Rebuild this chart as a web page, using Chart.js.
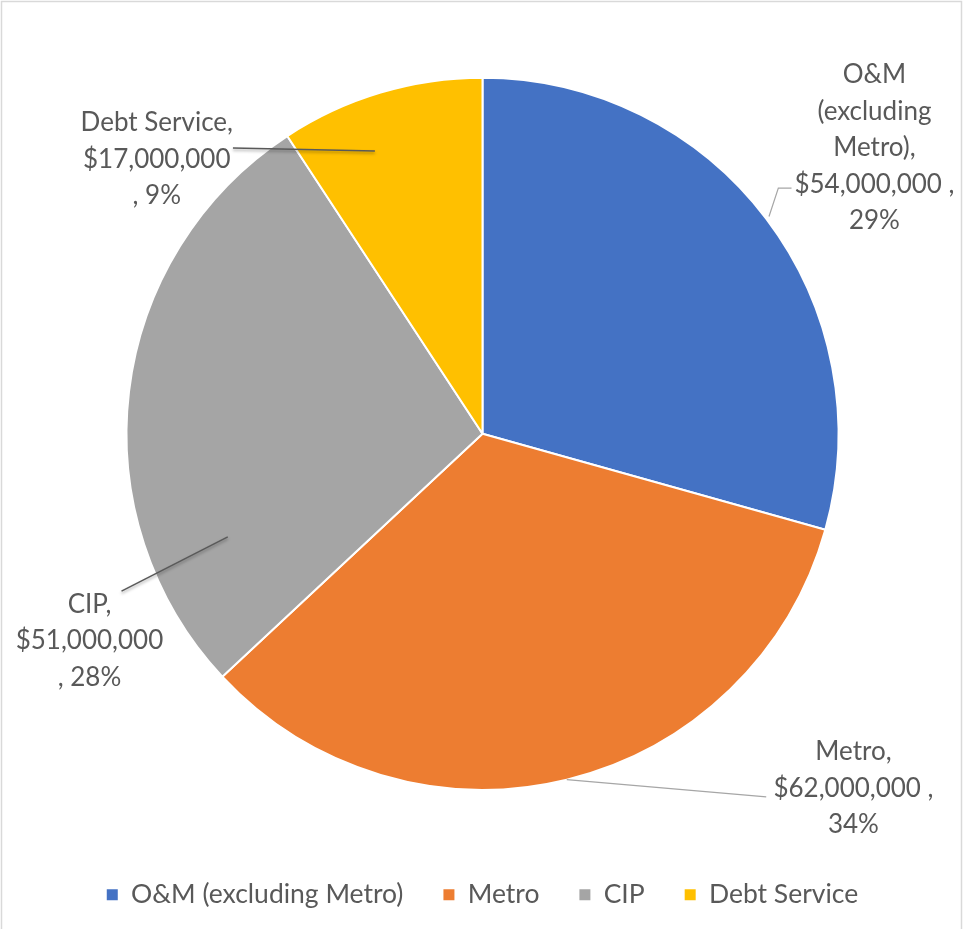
<!DOCTYPE html>
<html>
<head>
<meta charset="utf-8">
<title>Budget breakdown</title>
<script src="https://cdn.jsdelivr.net/npm/chart.js@4.4.1/dist/chart.umd.min.js"></script>
<style>
    html, body { margin: 0; padding: 0; background: #fff; }
    #wrap { position: relative; width: 963px; height: 929px; }
</style>
</head>
<body>
<div id="wrap"><canvas id="budgetChart" width="963" height="929"></canvas></div>
<script>
// Budget categories and amounts (dollars)
const categories = ['O&M (excluding Metro)', 'Metro', 'CIP', 'Debt Service'];
const amounts = [54000000, 62000000, 51000000, 17000000];
const sliceColors = ['#4472C4', '#ED7D31', '#A5A5A5', '#FFC000'];

// How each data label is wrapped (name lines) and where the comma goes
const labelNameLines = [['O&M', '(excluding', 'Metro),'], ['Metro,'], ['CIP,'], ['Debt Service,']];
const commaAfterAmount = [true, true, false, false];

// Label placement relative to pie centre, in units of the radius
const labelLayout = [
    { cx: 1.101, cy: -1.008, start: { a: 0, r: 1.01 }, elbow: [0.831, -0.69], end: [0.868, -0.69], color: '#A6A6A6' },
    { cx: 1.042, cy: 0.893, start: { a: 0, r: 1.0 }, end: [0.797, 1.02], color: '#A6A6A6' },
    { cx: -1.104, cy: 0.479, start: { a: -28.9, r: 0.772 }, end: [-1.014, 0.442], color: '#595959' },
    { cx: -0.915, cy: -0.873, start: { a: -4.2, r: 0.85 }, end: [-0.701, -0.803], color: '#595959' }
];

const fmtMoney = v => '$' + v.toLocaleString('en-US');

// Draw leader lines and data labels
const dataLabels = {
    id: 'dataLabels',
    afterDatasetsDraw(chart) {
        const ctx = chart.ctx;
        const meta = chart.getDatasetMeta(0);
        const total = amounts.reduce((a, b) => a + b, 0);
        ctx.save();
        meta.data.forEach((arc, i) => {
            const L = labelLayout[i];
            const cx = arc.x, cy = arc.y, R = arc.outerRadius;
            const mid = (arc.startAngle + arc.endAngle) / 2 + L.start.a * Math.PI / 180;
            const sx = cx + Math.cos(mid) * R * L.start.r;
            const sy = cy + Math.sin(mid) * R * L.start.r;

            ctx.strokeStyle = L.color;
            ctx.lineWidth = L.color === '#595959' ? 1.5 : 1.2;
            if (L.color === '#595959') {
                ctx.shadowColor = 'rgba(0,0,0,0.35)';
                ctx.shadowBlur = 3;
                ctx.shadowOffsetY = 2;
            }
            ctx.beginPath();
            ctx.moveTo(sx, sy);
            if (L.elbow) ctx.lineTo(cx + L.elbow[0] * R, cy + L.elbow[1] * R);
            ctx.lineTo(cx + L.end[0] * R, cy + L.end[1] * R);
            ctx.stroke();
            ctx.shadowColor = 'transparent';
            ctx.shadowBlur = 0;
            ctx.shadowOffsetY = 0;

            const pct = Math.round(amounts[i] / total * 100) + '%';
            let lines = labelNameLines[i].slice();
            if (commaAfterAmount[i]) {
                lines.push(fmtMoney(amounts[i]) + ' ,', pct);
            } else {
                lines.push(fmtMoney(amounts[i]), ', ' + pct);
            }
            ctx.fillStyle = '#595959';
            ctx.font = '26px Lato';
            ctx.textAlign = 'center';
            ctx.textBaseline = 'middle';
            const lx = cx + L.cx * R, ly = cy + L.cy * R;
            lines.forEach((t, k) => ctx.fillText(t, lx, ly + k * 36.5));
        });
        ctx.restore();
    }
};

// Light chart-area border like the spreadsheet frame, plus small legend nudge
const frame = {
    id: 'frame',
    afterLayout(chart) {
        chart.legend.top -= 5;
        chart.legend.bottom -= 5;
    },
    beforeDraw(chart) {
        const ctx = chart.ctx;
        ctx.save();
        ctx.strokeStyle = '#D9D9D9';
        ctx.lineWidth = 1.5;
        ctx.strokeRect(1.5, 1.5, chart.width - 3, chart.height + 10);
        ctx.restore();
    }
};

new Chart(document.getElementById('budgetChart'), {
    type: 'pie',
    data: {
        labels: categories,
        datasets: [{
            data: amounts,
            backgroundColor: sliceColors,
            borderColor: '#ffffff',
            borderWidth: 2,
            radius: 356
        }]
    },
    options: {
        responsive: false,
        animation: false,
        layout: {
            padding: { top: 21, left: 2, right: 0, bottom: 6 }
        },
        plugins: {
            legend: {
                position: 'bottom',
                labels: {
                    boxWidth: 11,
                    boxHeight: 11,
                    padding: 40,
                    color: '#595959',
                    font: { family: 'Lato', size: 26.5 },
                    generateLabels(chart) {
                        const items = Chart.overrides.pie.plugins.legend.labels.generateLabels(chart);
                        items.forEach(it => { it.lineWidth = 0; });
                        return items;
                    }
                }
            },
            tooltip: { enabled: false }
        }
    },
    plugins: [frame, dataLabels]
});
</script>
</body>
</html>
